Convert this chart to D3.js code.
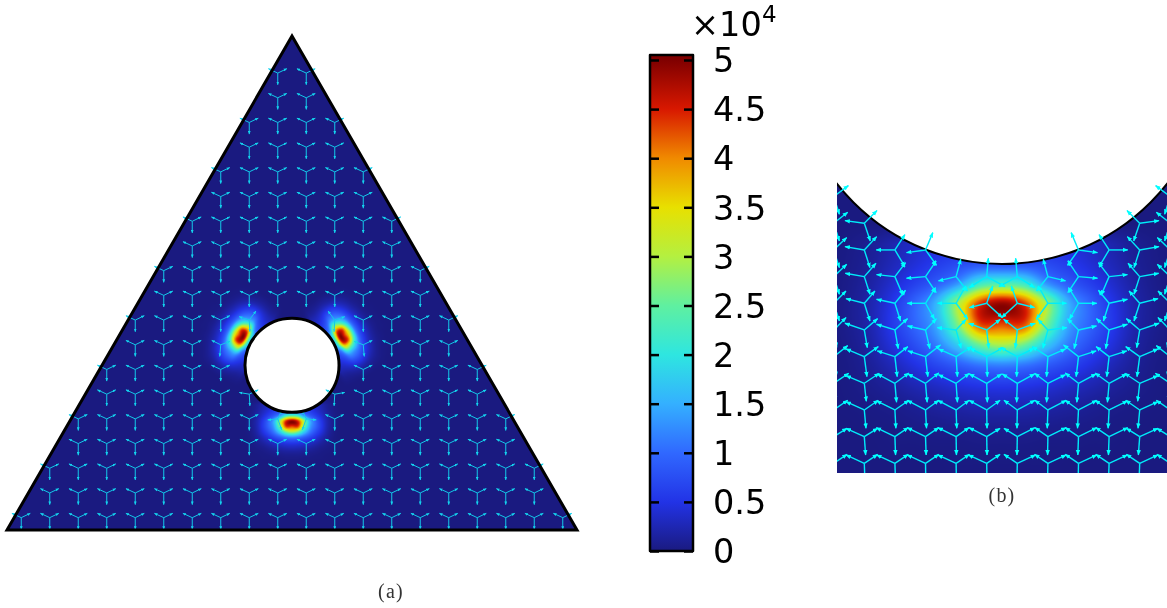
<!DOCTYPE html>
<html>
<head>
<meta charset="utf-8">
<title>Stress field around a hole in a triangle</title>
<script src="https://d3js.org/d3.v7.min.js"></script>
<style>
  html, body { margin: 0; padding: 0; background: #fff; }
  #heat, #plot { position: absolute; left: 0; top: 0; }
  .cbar text { font-family: "DejaVu Sans", sans-serif; font-size: 33.5px; fill: #000; }
  .cbar path.domain { display: none; }
  .cbar line { stroke: #000; stroke-width: 2.5px; }
  .caption { font-family: "Liberation Serif", serif; font-size: 20px; fill: #333; letter-spacing: 1.2px; text-anchor: middle; }
</style>
</head>
<body>
<canvas id="heat" width="1167" height="608"></canvas>
<svg id="plot" width="1167" height="608"></svg>

<script>
// colour bar, in units of 10^4
var barTicks = [0, 0.5, 1, 1.5, 2, 2.5, 3, 3.5, 4, 4.5, 5];
var barColors = ["#1a1a80", "#2233e6", "#3068ff", "#34b0ff", "#2ee6e0", "#5ff0a0", "#b4f040", "#e8e000", "#f08a00", "#d81800", "#800000"];

// triangle and hole, side of the triangle = 100
var triX = [0, 100, 50];
var triY = [0, 0, 86.6];
var holeX = 50, holeY = 28.87, holeR = 8.25;

// stress magnitude around the bottom of the hole (half of it, it is symmetric)
// rows go downward from inside the hole, columns go outward from the middle
var heatRows = [
  [0.60, 0.60, 0.55, 0.45, 0.35, 0.22, 0.10, 0.03, 0.00],
  [0.80, 0.80, 0.72, 0.58, 0.42, 0.27, 0.12, 0.04, 0.00],
  [2.40, 2.20, 1.35, 0.90, 0.62, 0.38, 0.17, 0.05, 0.00],
  [4.90, 4.40, 2.95, 1.55, 0.95, 0.52, 0.22, 0.07, 0.00],
  [4.30, 4.30, 2.70, 1.45, 0.95, 0.55, 0.22, 0.07, 0.00],
  [3.00, 2.65, 1.80, 1.15, 0.75, 0.45, 0.18, 0.05, 0.00],
  [1.25, 1.15, 0.92, 0.70, 0.48, 0.28, 0.12, 0.03, 0.00],
  [0.58, 0.55, 0.47, 0.36, 0.26, 0.15, 0.07, 0.02, 0.00],
  [0.28, 0.26, 0.22, 0.17, 0.11, 0.06, 0.03, 0.01, 0.00],
  [0.10, 0.10, 0.08, 0.06, 0.04, 0.02, 0.01, 0.00, 0.00],
  [0.03, 0.03, 0.02, 0.02, 0.01, 0.01, 0.00, 0.00, 0.00],
  [0.01, 0.01, 0.01, 0.00, 0.00, 0.00, 0.00, 0.00, 0.00],
  [0.00, 0.00, 0.00, 0.00, 0.00, 0.00, 0.00, 0.00, 0.00]
];

// the spots look a bit wider in the full view (a) than the table gives
var aSpotStretch = 1.2, aSpotMiddle = 10.06;

// panel (a): arrow nodes. first and last column per row, rows counted from the base
var aRowFirst = [0, 1, 1, 2, 2, 3, 3, 4, 4, 5, 5, 6, 6, 7, 7, 8, 8, 9, 9];
var aRowLast = [19, 18, 18, 17, 17, 16, 16, 15, 15, 14, 14, 13, 13, 12, 12, 11, 11, 10, 10];
// columns left out because the hole is there
var aGapRows = [5, 6, 7, 8];
var aGapFirst = [9, 8, 8, 9];
var aGapLast = [10, 11, 11, 10];
// usual triad: up-right, up-left, down
var aTriad = [27, -13, -28, -13, 0, 35];
// triads bent by the hole, left side only: row, column, triad
var aBentRows = [8, 7, 5, 4];
var aBentCols = [8, 7, 8, 9];
var aBentTriads = [
  [20, -27, -30, -10, 2, 35],
  [27, -10, -27, -13, -3, 35],
  [27, -13, -30, -5, 2, 35],
  [12, -25, -30, 3, 12, 33]
];

// panel (b): arrow nodes, left half, the right half is the mirror image
var bCols = [-5.5, -4.5, -3.5, -2.5, -1.5, -0.5];
var bTriads = [
  [[44,-33,-58,-8,17,53], null, null, null, null, null],
  [[42,-33,-58,-8,17,53], [38,-38,-58,-8,18,53], null, null, null, null],
  [[39,-37,-58,-10,17,53], [37,-40,-58,-10,17,53], [30,-46,-56,0,30,50], [22,-52,-57,8,33,46], null, null],
  [[39,-37,-57,-10,17,53], [35,-40,-57,-10,17,53], [32,-42,-55,-6,24,56], [32,-47,-57,5,32,48], [14,-52,-53,13,34,43], [5,-55,-52,33,55,30]],
  [[37,-37,-55,-14,17,53], [32,-37,-55,-14,17,53], [32,-39,-55,-12,17,53], [30,-47,-55,0,27,48], [29,-52,-56,0,35,48], [18,-52,-52,13,47,43]],
  [[37,-37,-58,-20,9,53], [40,-34,-58,-20,9,53], [38,-34,-55,-17,10,56], [33,-34,-54,-12,13,56], [30,-32,-57,-7,15,55], [41,-32,-54,-20,6,55]],
  [[42,-33,-55,-23,8,60], [42,-30,-55,-23,8,60], [39,-30,-53,-17,7,60], [45,-35,-53,-17,7,60], [47,-30,-53,-23,4,60], [50,-27,-50,-25,2,60]],
  [[45,-30,-55,-23,6,54], [45,-30,-55,-23,6,54], [42,-31,-53,-28,5,57], [40,-31,-53,-28,5,57], [40,-30,-53,-26,4,57], [45,-28,-52,-28,2,57]],
  [[42,-29,-55,-25,5,55], [42,-29,-55,-25,5,55], [42,-29,-55,-27,3,55], [40,-29,-55,-29,3,55], [39,-29,-55,-29,2,55], [40,-29,-53,-29,1,55]],
  [[40,-25,-55,-25,4,55], [40,-25,-55,-25,4,55], [40,-27,-56,-27,2,55], [40,-27,-55,-27,2,55], [39,-27,-55,-27,1,55], [40,-25,-53,-27,1,55]],
  [[40,-27,-55,-25,2,55], [40,-27,-55,-25,2,55], [40,-27,-55,-25,2,55], [40,-27,-55,-25,1,55], [40,-27,-55,-25,1,55], [40,-27,-55,-25,1,55]]
];

// scales
var aX = d3.scaleLinear().domain([0, 100]).range([7, 577]);
var aY = d3.scaleLinear().domain([0, 86.6]).range([530, 36]);
var aCol = d3.scaleLinear().domain([0, 19]).range([aX(2.5), aX(97.5)]);
var aRow = d3.scaleLinear().domain([0, 18]).range([aY(2.165), aY(80.1)]);

// panel (b) is measured from the centre of the hole, y goes down
var bX = d3.scaleLinear().domain([-6.483, 6.483]).range([837, 1167]);
var bY = d3.scaleLinear().domain([0, 10]).range([54, 308.5]);
var bCol = d3.scaleLinear().domain([-5.5, 5.5]).range([833.7, 1170.3]);
var bRow = d3.scaleLinear().domain([0, 10]).range([196.6, 463.3]);
var bBottom = 473, bTop = 180;

var heatU = d3.scaleLinear().domain([0, 8]).range([0, 6.915]);
var heatV = d3.scaleLinear().domain([0, 12]).range([7.466, 16.896]);

var vector = d3.scaleLinear().domain([0, 3]).range([0, 1]);
var color = d3.scaleLinear().domain(barTicks).range(barColors).clamp(true);
var barY = d3.scaleLinear().domain([0, 5]).range([551, 60]);

// catmull-rom through the table
function spline(p0, p1, p2, p3, t) {
  return 0.5 * (2 * p1 + (p2 - p0) * t + (2 * p0 - 5 * p1 + 4 * p2 - p3) * t * t + (3 * p1 - p0 - 3 * p2 + p3) * t * t * t);
}

function cell(i, j) {
  j = Math.abs(j); // mirror across the middle
  if (i < 0) i = 0;
  if (i >= heatRows.length || j >= heatRows[0].length) return 0;
  return heatRows[i][j];
}

function heatAt(mx, my) {
  var u = heatU.invert(Math.abs(mx)), v = heatV.invert(my);
  if (u >= 8 || v >= 12 || v <= -1) return 0;
  var fade = v < 0 ? v + 1 : 1; // the table starts inside the hole, fade out before its edge
  if (v < 0) v = 0;
  var i = Math.floor(v), j = Math.floor(u), tv = v - i, tu = u - j;
  var r = [];
  for (var k = -1; k <= 2; k++) {
    r.push(spline(cell(i + k, j - 1), cell(i + k, j), cell(i + k, j + 1), cell(i + k, j + 2), tu));
  }
  return fade * Math.max(0, spline(r[0], r[1], r[2], r[3], tv));
}

function heatSpotA(mx, my) {
  return heatAt(mx / aSpotStretch, aSpotMiddle + (my - aSpotMiddle) / aSpotStretch);
}

// the three hot spots of panel (a) are the same spot turned by 120 degrees
var cos120 = Math.cos(2 * Math.PI / 3), sin120 = Math.sin(2 * Math.PI / 3);
function heatA(mx, my) {
  return Math.max(
    heatSpotA(mx, my),
    heatSpotA(cos120 * mx - sin120 * my, sin120 * mx + cos120 * my),
    heatSpotA(cos120 * mx + sin120 * my, -sin120 * mx + cos120 * my)
  );
}

var ctx = document.getElementById("heat").getContext("2d");
var image = ctx.createImageData(1167, 608);

function setPixel(px, py, value) {
  var c = d3.rgb(color(value)), o = (py * 1167 + px) * 4;
  image.data[o] = c.r; image.data[o + 1] = c.g; image.data[o + 2] = c.b; image.data[o + 3] = 255;
}

var triangle = [[triX[0], triY[0]], [triX[1], triY[1]], [triX[2], triY[2]]];
var px, py, mx, my;
for (py = 30; py < 535; py++) {
  for (px = 0; px < 585; px++) {
    mx = aX.invert(px + 0.5); my = aY.invert(py + 0.5);
    if (!d3.polygonContains(triangle, [mx, my])) continue;
    if (Math.hypot(mx - holeX, my - holeY) < holeR) continue;
    setPixel(px, py, heatA(mx - holeX, holeY - my));
  }
}
for (py = bTop; py < bBottom; py++) {
  for (px = bX.range()[0]; px < bX.range()[1]; px++) {
    mx = bX.invert(px + 0.5); my = bY.invert(py + 0.5);
    if (Math.hypot(mx, my) < holeR) continue;
    setPixel(px, py, heatAt(mx, my));
  }
}
ctx.putImageData(image, 0, 0);

var svg = d3.select("#plot");
var defs = svg.append("defs");

function addHead(id, size, fill) {
  defs.append("marker")
    .attr("id", id)
    .attr("markerUnits", "userSpaceOnUse")
    .attr("viewBox", "0 0 10 10")
    .attr("refX", 9).attr("refY", 5)
    .attr("markerWidth", size).attr("markerHeight", size)
    .attr("orient", "auto")
    .append("path")
    .attr("d", "M0,1 L10,5 L0,9 Z")
    .attr("fill", fill);
}
addHead("headA", 3.5, "#14d4ee");
addHead("headB", 5.5, "#00ffff");

defs.append("clipPath").attr("id", "windowB")
  .append("rect")
  .attr("x", bX.range()[0]).attr("y", bTop)
  .attr("width", bX.range()[1] - bX.range()[0]).attr("height", bBottom - bTop);

function drawTriad(g, x, y, t) {
  for (var i = 0; i < 3; i++) {
    g.append("line")
      .attr("x1", x).attr("y1", y)
      .attr("x2", x + vector(t[i * 2])).attr("y2", y + vector(t[i * 2 + 1]));
  }
}

// panel (a)
var bent = {};
aBentRows.forEach(function(r, i) {
  var t = aBentTriads[i];
  bent[r + "," + aBentCols[i]] = t;
  bent[r + "," + (19 - aBentCols[i])] = [-t[0], t[1], -t[2], t[3], -t[4], t[5]];
});

var arrowsA = svg.append("g")
  .attr("stroke", "#14c8e8").attr("stroke-width", 1);

aRowFirst.forEach(function(first, r) {
  var gap = aGapRows.indexOf(r);
  for (var k = first; k <= aRowLast[r]; k++) {
    if (gap >= 0 && k >= aGapFirst[gap] && k <= aGapLast[gap]) continue;
    drawTriad(arrowsA, aCol(k), aRow(r), bent[r + "," + k] || aTriad);
  }
});
arrowsA.selectAll("line").attr("marker-end", "url(#headA)");

svg.append("path")
  .attr("d", d3.line().x(function(d) { return aX(d[0]); }).y(function(d) { return aY(d[1]); }).curve(d3.curveLinearClosed)(triangle))
  .attr("fill", "none").attr("stroke", "#000").attr("stroke-width", 3).attr("stroke-linejoin", "miter");

svg.append("circle")
  .attr("cx", aX(holeX)).attr("cy", aY(holeY)).attr("r", aX(holeR) - aX(0))
  .attr("fill", "none").attr("stroke", "#000").attr("stroke-width", 3);

// panel (b)
var panelB = svg.append("g").attr("clip-path", "url(#windowB)");

panelB.append("circle")
  .attr("cx", bX(0)).attr("cy", bY(0)).attr("r", bX(holeR) - bX(0))
  .attr("fill", "none").attr("stroke", "#000").attr("stroke-width", 2);

var arrowsB = panelB.append("g").attr("stroke", "#00ecfa").attr("stroke-width", 1.4);

bTriads.forEach(function(row, r) {
  row.forEach(function(t, c) {
    if (!t) return;
    drawTriad(arrowsB, bCol(bCols[c]), bRow(r), t);
    drawTriad(arrowsB, bCol(-bCols[c]), bRow(r), [-t[0], t[1], -t[2], t[3], -t[4], t[5]]);
  });
});
arrowsB.selectAll("line").attr("marker-end", "url(#headB)");

// colour bar
var gradient = defs.append("linearGradient").attr("id", "barFill")
  .attr("x1", 0).attr("y1", 1).attr("x2", 0).attr("y2", 0);
barTicks.forEach(function(v, i) {
  gradient.append("stop")
    .attr("offset", (barY(0) - barY(v)) / (barY(0) - 55))
    .attr("stop-color", barColors[i]);
});

var bar = svg.append("g").attr("class", "cbar");
bar.append("rect")
  .attr("x", 650).attr("y", 55).attr("width", 43).attr("height", barY(0) - 55)
  .attr("fill", "url(#barFill)");

var barAxis = d3.axisRight(barY).tickValues(barTicks).tickSize(0).tickPadding(20)
  .tickFormat(function(d) { return d; });
bar.append("g").attr("transform", "translate(693,1)").call(barAxis)
  .selectAll("text").style("text-anchor", "start");
bar.append("g").attr("transform", "translate(650,0)").call(d3.axisRight(barY).tickValues(barTicks).tickSize(9).tickFormat(""));
bar.append("g").attr("transform", "translate(693,0)").call(d3.axisLeft(barY).tickValues(barTicks).tickSize(9).tickFormat(""));

bar.append("rect")
  .attr("x", 650).attr("y", 55).attr("width", 43).attr("height", barY(0) - 55)
  .attr("fill", "none").attr("stroke", "#000").attr("stroke-width", 2.5).attr("stroke-linejoin", "round");

bar.append("text").attr("x", 691).attr("y", 36).text("×10");
bar.append("text").attr("x", 762).attr("y", 22).style("font-size", "23px").text("4");

// captions
svg.append("text").attr("class", "caption").attr("x", 391).attr("y", 598).text("(a)");
svg.append("text").attr("class", "caption").attr("x", 1002).attr("y", 502).text("(b)");
</script>
</body>
</html>
